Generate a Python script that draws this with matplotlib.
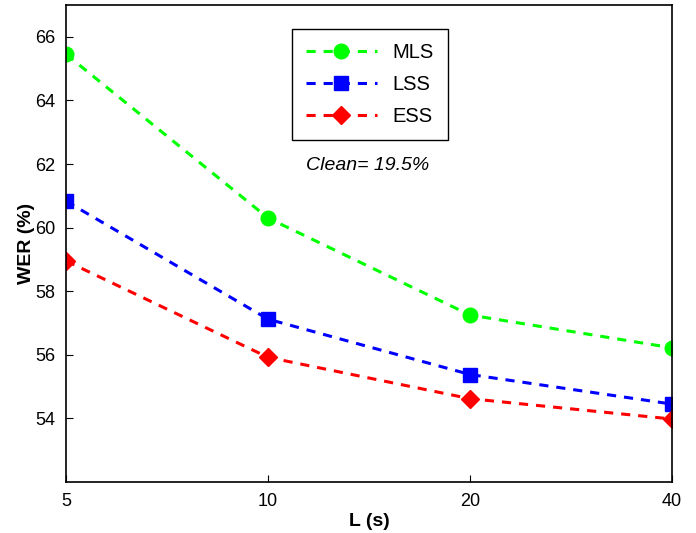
import matplotlib
matplotlib.use('Agg')
import matplotlib.pyplot as plt

plt.rcParams['font.family'] = ['Liberation Sans', 'DejaVu Sans']

L_labels = ['5', '10', '20', '40']
mls = [65.45, 60.3, 57.25, 56.22]
lss = [60.83, 57.12, 55.38, 54.45]
ess = [58.95, 55.92, 54.62, 53.98]

x = list(range(len(L_labels)))

fig = plt.figure(figsize=(6.96, 5.33), dpi=100)
ax = fig.add_axes([0.095, 0.0957, 0.8705, 0.8949])

ax.plot(x, mls, '--o', color='#00ff00', lw=2.2, ms=10.5, dashes=(3, 2.6), label='MLS')
ax.plot(x, lss, '--s', color='#0000ff', lw=2.2, ms=9.5, dashes=(3, 2.6), label='LSS')
ax.plot(x, ess, '--D', color='#ff0000', lw=2.2, ms=9, dashes=(3, 2.6), label='ESS')

ax.set_xlim(0, 3)
ax.set_ylim(52, 67)
ax.set_xticks(x)
ax.set_xticklabels(L_labels)
ax.set_yticks(range(54, 67, 2))
ax.tick_params(direction='in', length=5, labelsize=13, pad=8)
for s in ax.spines.values():
    s.set_linewidth(1.2)

ax.set_xlabel('L (s)', fontsize=14, fontweight='bold', labelpad=2)
ax.set_ylabel('WER (%)', fontsize=14, fontweight='bold', labelpad=0)

leg = ax.legend(loc='upper left', bbox_to_anchor=(0.373, 0.95), borderaxespad=0,
                fontsize=14.5, handlelength=3.5, borderpad=0.7, labelspacing=0.65,
                fancybox=False, edgecolor='black', framealpha=1)
leg.get_frame().set_linewidth(1.0)

ax.text(0.497, 0.664, 'Clean= 19.5%', transform=ax.transAxes, fontsize=14,
        style='italic', ha='center', va='center')

fig.savefig('out.png', dpi=100)
